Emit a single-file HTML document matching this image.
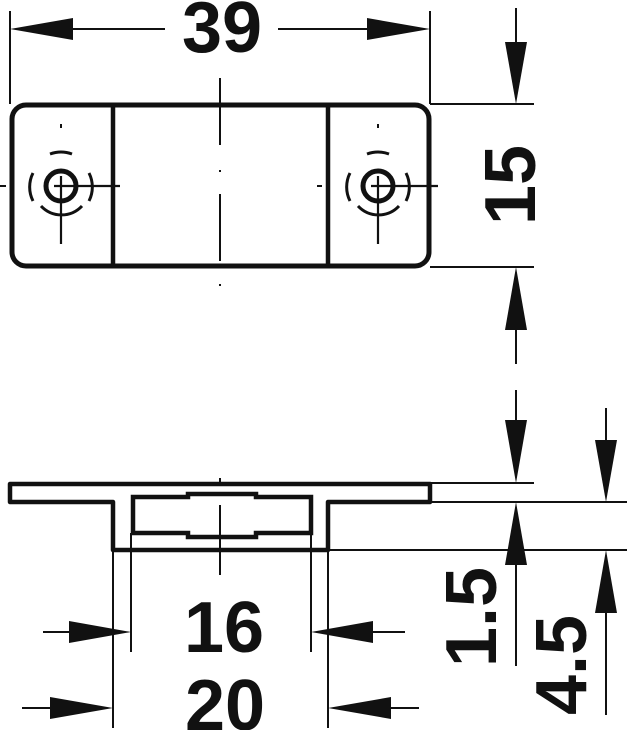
<!DOCTYPE html>
<html><head><meta charset="utf-8"><style>
html,body{margin:0;padding:0;background:#fff;}
svg{display:block;}
text{font-family:"Liberation Sans",sans-serif;font-weight:bold;fill:#111;}
</style></head><body>
<svg width="627" height="730" viewBox="0 0 627 730" xmlns="http://www.w3.org/2000/svg">
<g stroke="#111" fill="none">
<rect x="12" y="105" width="417" height="161" rx="14" stroke-width="5"/>
<line x1="113" y1="105" x2="113" y2="266" stroke-width="4.5"/>
<line x1="328" y1="105" x2="328" y2="266" stroke-width="4.5"/>
<line x1="220" y1="78" x2="220" y2="145" stroke-width="2"/>
<line x1="220" y1="170" x2="220" y2="172" stroke-width="2"/>
<line x1="220" y1="194" x2="220" y2="261" stroke-width="2"/>
<line x1="220" y1="284" x2="220" y2="286" stroke-width="2"/>
<line x1="0" y1="186" x2="6" y2="186" stroke-width="2"/>
<line x1="317" y1="186" x2="322" y2="186" stroke-width="2"/>
<g>
<circle cx="61" cy="186" r="15" stroke-width="5"/>
<line x1="61" y1="176" x2="61" y2="244" stroke-width="2.2"/>
<line x1="54" y1="186" x2="120" y2="186" stroke-width="2.2"/>
<line x1="61" y1="124" x2="61" y2="128" stroke-width="2"/>
<path d="M50 154 A32 32 0 0 1 72 154" stroke-width="3"/>
<path d="M33 173 A31 31 0 0 0 33 201" stroke-width="3"/>
<path d="M89 173 A31 31 0 0 1 89 201" stroke-width="3"/>
<path d="M41 206 A28 28 0 0 0 82 206" stroke-width="3"/>
</g>
<g transform="translate(317,0)">
<circle cx="61" cy="186" r="15" stroke-width="5"/>
<line x1="61" y1="176" x2="61" y2="244" stroke-width="2.2"/>
<line x1="54" y1="186" x2="121" y2="186" stroke-width="2.2"/>
<line x1="61" y1="124" x2="61" y2="128" stroke-width="2"/>
<path d="M50 154 A32 32 0 0 1 72 154" stroke-width="3"/>
<path d="M33 173 A31 31 0 0 0 33 201" stroke-width="3"/>
<path d="M89 173 A31 31 0 0 1 89 201" stroke-width="3"/>
<path d="M41 206 A28 28 0 0 0 82 206" stroke-width="3"/>
</g>
<line x1="10" y1="11" x2="10" y2="104" stroke-width="2"/>
<line x1="430" y1="11" x2="430" y2="104" stroke-width="2"/>
<line x1="60" y1="29" x2="165" y2="29" stroke-width="2"/>
<line x1="278" y1="29" x2="380" y2="29" stroke-width="2"/>
<line x1="430" y1="104" x2="534" y2="104" stroke-width="2"/>
<line x1="430" y1="267" x2="534" y2="267" stroke-width="2"/>
<line x1="516" y1="8" x2="516" y2="60" stroke-width="2"/>
<line x1="516" y1="310" x2="516" y2="364" stroke-width="2"/>
<path d="M10 484 H430 V502 H328 V550 H113 V502 H10 Z" stroke-width="4.5" stroke-linejoin="round"/>
<path d="M133 497 H188 V494 H256 V497 H311 V533 H256 V537 H188 V533 H133 Z" stroke-width="4.5"/>
<line x1="220" y1="478" x2="220" y2="484" stroke-width="2"/>
<line x1="220" y1="505" x2="220" y2="575" stroke-width="2"/>
<line x1="113" y1="550" x2="113" y2="728" stroke-width="2"/>
<line x1="131" y1="533" x2="131" y2="652" stroke-width="2"/>
<line x1="311" y1="533" x2="311" y2="652" stroke-width="2"/>
<line x1="328" y1="550" x2="328" y2="728" stroke-width="2"/>
<line x1="43" y1="632" x2="80" y2="632" stroke-width="2"/>
<line x1="360" y1="632" x2="405" y2="632" stroke-width="2"/>
<line x1="22" y1="708" x2="60" y2="708" stroke-width="2"/>
<line x1="380" y1="708" x2="419" y2="708" stroke-width="2"/>
<line x1="430" y1="483" x2="534" y2="483" stroke-width="2"/>
<line x1="430" y1="502" x2="627" y2="502" stroke-width="2"/>
<line x1="328" y1="550" x2="627" y2="550" stroke-width="2"/>
<line x1="516" y1="390" x2="516" y2="430" stroke-width="2"/>
<line x1="516" y1="550" x2="516" y2="666" stroke-width="2"/>
<line x1="606" y1="408" x2="606" y2="450" stroke-width="2"/>
<line x1="606" y1="600" x2="606" y2="715" stroke-width="2"/>
</g>
<g fill="#111">
<polygon points="10,29 73,18 73,40"/>
<polygon points="430,29 367,18 367,40"/>
<polygon points="516,104 505,42 527,42"/>
<polygon points="516,267 505,330 527,330"/>
<polygon points="516,483 505,420 527,420"/>
<polygon points="516,502 505,565 527,565"/>
<polygon points="606,502 595,440 617,440"/>
<polygon points="606,550 595,613 617,613"/>
<polygon points="131,632 69,621 69,643"/>
<polygon points="311,632 373,621 373,643"/>
<polygon points="113,708 50,697 50,719"/>
<polygon points="328,708 391,697 391,719"/>
</g>
<text x="222" y="52" font-size="72" text-anchor="middle">39</text>
<text transform="translate(535,185) rotate(-90)" font-size="72" text-anchor="middle">15</text>
<text x="224" y="652" font-size="72" text-anchor="middle">16</text>
<text x="225" y="730" font-size="72" text-anchor="middle">20</text>
<text transform="translate(496,617) rotate(-90)" font-size="72" text-anchor="middle">1.5</text>
<text transform="translate(586,665) rotate(-90)" font-size="72" text-anchor="middle">4.5</text>
</svg>
</body></html>
